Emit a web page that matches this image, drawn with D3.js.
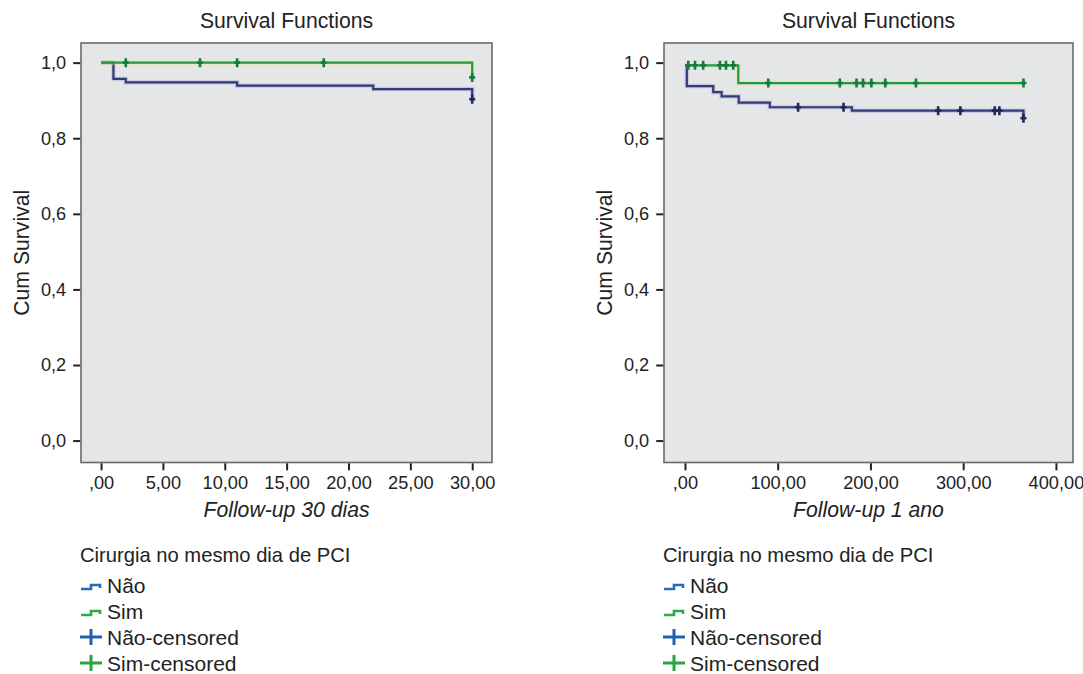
<!DOCTYPE html>
<html>
<head>
<meta charset="utf-8">
<script src="https://cdn.jsdelivr.net/npm/d3@7"></script>
<style>
  html, body { margin: 0; padding: 0; background: #ffffff; }
  svg { display: block; font-family: "Liberation Sans", Arial, Helvetica, sans-serif; }
</style>
</head>
<body>
<svg id="chart" width="1083" height="674"></svg>
<script>
// ---- 30-day follow-up (days) ----
const nao30Steps = [[0, 1.0], [1, 0.957], [2, 0.948], [11, 0.939], [22, 0.930], [30, 0.903]];
const sim30Steps = [[0, 1.0], [30, 0.961]];
const nao30Censored = [30];
const sim30Censored = [2, 8, 11, 18, 30];
const xTicks30 = [0, 5, 10, 15, 20, 25, 30];
const xTickLabels30 = [",00", "5,00", "10,00", "15,00", "20,00", "25,00", "30,00"];

// ---- 1-year follow-up (days) ----
const nao1aSteps = [[0, 0.992], [2, 0.938], [30.5, 0.922], [39.5, 0.911], [58, 0.894], [91.5, 0.882], [180, 0.873], [365, 0.853]];
const sim1aSteps = [[0, 0.993], [57.5, 0.946], [365, 0.946]];
const nao1aCensored = [122, 171, 273, 297, 334, 339, 365];
const sim1aCensored = [3.6, 10.8, 19.7, 37.7, 44.2, 52.1, 89.8, 167, 185, 192, 201, 216, 249, 365];
const xTicks1a = [0, 100, 200, 300, 400];
const xTickLabels1a = [",00", "100,00", "200,00", "300,00", "400,00"];

// ---- shared ----
const yTicks = [0, 0.2, 0.4, 0.6, 0.8, 1.0];
const yTickLabels = ["0,0", "0,2", "0,4", "0,6", "0,8", "1,0"];
const legendTitle = "Cirurgia no mesmo dia de PCI";
const legendLabels = ["Não", "Sim", "Não-censored", "Sim-censored"];

const COLORS = {
  naoLine: "#303b7c",
  simLine: "#1f9a48",
  naoMark: "#1e2859",
  simMark: "#137c3a",
  naoIcon: "#2a6bb8",
  simIcon: "#2ea84c",
  naoCross: "#1f62b0",
  simCross: "#2aa343"
};

const svg = d3.select("#chart");

function survivalAt(steps, t) {
  let v = steps[0][1];
  for (const [st, sv] of steps) { if (st <= t) v = sv; }
  return v;
}

function drawPanel(cfg) {
  const g = svg.append("g");
  const x = d3.scaleLinear().domain(cfg.xDomain).range([cfg.left, cfg.right]);
  const y = d3.scaleLinear().domain([-0.058, 1.052]).range([cfg.bottom, cfg.top]);

  // plot area
  g.append("rect")
    .attr("x", cfg.left).attr("y", cfg.top)
    .attr("width", cfg.right - cfg.left).attr("height", cfg.bottom - cfg.top)
    .attr("fill", "#e5e6e8").attr("stroke", "#6a6a6a").attr("stroke-width", 1.6);

  // title
  g.append("text")
    .attr("x", (cfg.left + cfg.right) / 2).attr("y", 28)
    .attr("text-anchor", "middle").attr("font-size", 21.2).attr("fill", "#222")
    .text("Survival Functions");

  // y axis
  const yAxis = d3.axisLeft(y).tickValues(yTicks)
    .tickFormat((d, i) => yTickLabels[i]).tickSize(7).tickPadding(7);
  const ya = g.append("g").attr("transform", `translate(${cfg.left - 0.8},0)`).call(yAxis);
  ya.select(".domain").remove();
  ya.selectAll("line").attr("stroke", "#222").attr("stroke-width", 2);
  ya.selectAll("text").attr("font-size", 18.2).attr("fill", "#222").attr("font-family", "Liberation Sans, Arial, sans-serif");

  // x axis
  const xAxis = d3.axisBottom(x).tickValues(cfg.xTicks)
    .tickFormat((d, i) => cfg.xTickLabels[i]).tickSize(7).tickPadding(6);
  const xa = g.append("g").attr("transform", `translate(0,${cfg.bottom + 0.8})`).call(xAxis);
  xa.select(".domain").remove();
  xa.selectAll("line").attr("stroke", "#222").attr("stroke-width", 2);
  xa.selectAll("text").attr("font-size", 18.2).attr("fill", "#222").attr("font-family", "Liberation Sans, Arial, sans-serif");

  // axis titles
  g.append("text")
    .attr("x", (cfg.left + cfg.right) / 2).attr("y", 517)
    .attr("text-anchor", "middle").attr("font-size", 21.2).attr("font-style", "italic").attr("fill", "#222")
    .text(cfg.xTitle);
  g.append("text")
    .attr("transform", `translate(${cfg.left - 52},${(cfg.top + cfg.bottom) / 2}) rotate(-90)`)
    .attr("text-anchor", "middle").attr("font-size", 21.2).attr("fill", "#222")
    .text("Cum Survival");

  const line = d3.line().x(d => x(d[0])).y(d => y(d[1])).curve(d3.curveStepAfter);

  // survival curves: Não first, Sim on top
  g.append("path").datum(cfg.naoSteps).attr("d", line)
    .attr("fill", "none").attr("stroke", "#7a6fb0").attr("stroke-opacity", 0.25).attr("stroke-width", 4.5);
  g.append("path").datum(cfg.naoSteps).attr("d", line)
    .attr("fill", "none").attr("stroke", COLORS.naoLine).attr("stroke-width", 2.2);
  g.append("path").datum(cfg.simSteps).attr("d", line)
    .attr("fill", "none").attr("stroke", "#e8e27a").attr("stroke-opacity", 0.35).attr("stroke-width", 5);
  g.append("path").datum(cfg.simSteps).attr("d", line)
    .attr("fill", "none").attr("stroke", COLORS.simLine).attr("stroke-width", 2.2);

  // censored markers
  function marks(times, steps, color) {
    g.append("g").selectAll("path").data(times).join("path")
      .attr("d", t => {
        const cx = x(t), cy = y(survivalAt(steps, t));
        return `M${cx},${cy - 4.5}V${cy + 4.5}M${cx - 3},${cy}H${cx + 3}`;
      })
      .attr("stroke", color).attr("stroke-width", 2.6).attr("fill", "none");
  }
  marks(cfg.naoCensored, cfg.naoSteps, COLORS.naoMark);
  marks(cfg.simCensored, cfg.simSteps, COLORS.simMark);

  // legend
  const lg = g.append("g").attr("transform", `translate(${cfg.left - 1},0)`);
  lg.append("text").attr("x", 0).attr("y", 562).attr("font-size", 20.2).attr("fill", "#222").text(legendTitle);
  const rowY = [593, 619, 645, 671];
  const iconColors = [COLORS.naoIcon, COLORS.simIcon, COLORS.naoCross, COLORS.simCross];
  legendLabels.forEach((lab, i) => {
    const cy = rowY[i] - 7;
    if (i < 2) {
      lg.append("path")
        .attr("d", `M1,${cy + 3}H11V${cy - 1}H20V${cy + 2}`)
        .attr("fill", "none").attr("stroke", iconColors[i]).attr("stroke-width", 2.6);
    } else {
      lg.append("path")
        .attr("d", `M0,${cy - 1}H22M11,${cy - 9}V${cy + 7}`)
        .attr("fill", "none").attr("stroke", iconColors[i]).attr("stroke-width", 3);
    }
    lg.append("text").attr("x", 27).attr("y", rowY[i]).attr("font-size", 21).attr("fill", "#222").text(lab);
  });
}

drawPanel({
  left: 81, right: 492, top: 43, bottom: 462.5,
  xDomain: [-1.62, 31.6],
  xTicks: xTicks30, xTickLabels: xTickLabels30,
  xTitle: "Follow-up 30 dias",
  naoSteps: nao30Steps, simSteps: sim30Steps,
  naoCensored: nao30Censored, simCensored: sim30Censored
});

drawPanel({
  left: 664, right: 1073, top: 43, bottom: 462.5,
  xDomain: [-22.6, 418.4],
  xTicks: xTicks1a, xTickLabels: xTickLabels1a,
  xTitle: "Follow-up 1 ano",
  naoSteps: nao1aSteps, simSteps: sim1aSteps,
  naoCensored: nao1aCensored, simCensored: sim1aCensored
});
</script>
</body>
</html>
